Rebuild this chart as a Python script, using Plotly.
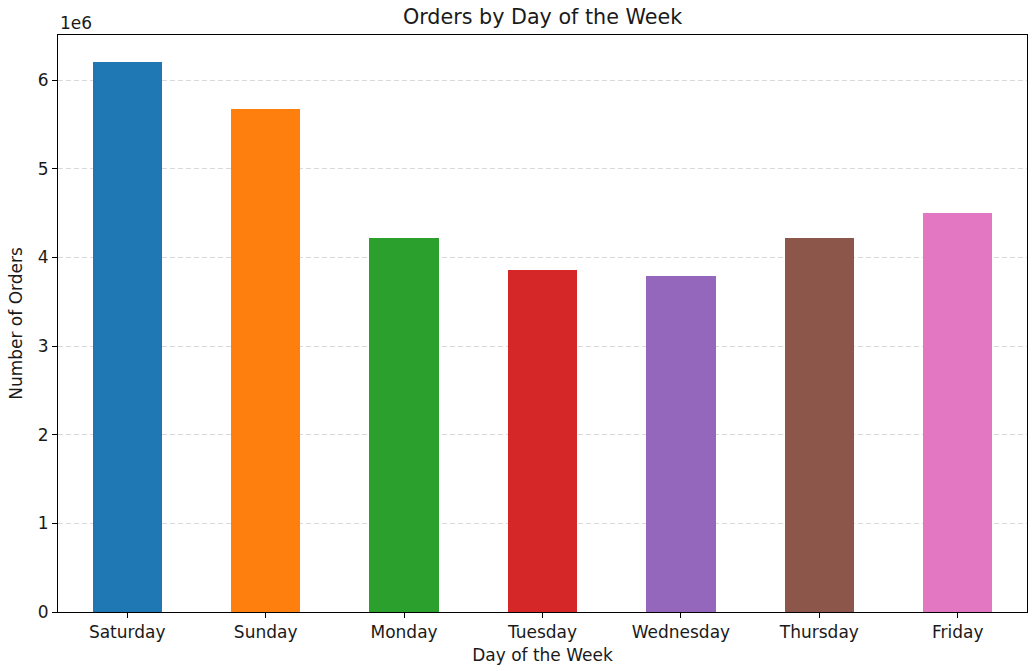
import plotly.graph_objects as go

days = ["Saturday", "Sunday", "Monday", "Tuesday", "Wednesday", "Thursday", "Friday"]
orders = [6200000, 5670000, 4215000, 3855000, 3795000, 4215000, 4500000]
colors = ["#1f77b4", "#ff7f0e", "#2ca02c", "#d62728", "#9467bd", "#8c564b", "#e377c2"]
ytick_vals = [0, 1000000, 2000000, 3000000, 4000000, 5000000, 6000000]
ytick_text = ["0", "1", "2", "3", "4", "5", "6"]

fig = go.Figure(go.Bar(x=days, y=orders, marker=dict(color=colors, line=dict(width=0)), width=0.5))

fig.update_layout(
    width=1033, height=671,
    margin=dict(l=58, r=6, t=35, b=59, autoexpand=False),
    plot_bgcolor="white", paper_bgcolor="white",
    font=dict(family="DejaVu Sans", size=17, color="#1a1a1a"),
    title=dict(text="Orders by Day of the Week", x=0.5, xref="paper", xanchor="center",
               y=1, yref="container", yanchor="top", pad=dict(t=10), font=dict(size=20.7)),
    showlegend=False,
    bargap=0,
)
fig.update_xaxes(
    range=[-0.5, 6.5], showline=True, linecolor="black", linewidth=1, mirror=True,
    ticks="outside", ticklen=5, tickcolor="black", showgrid=False, automargin=False,
    title=dict(text="Day of the Week", font=dict(size=17), standoff=7),
)
fig.update_yaxes(
    range=[0, 6510000], showline=True, linecolor="black", linewidth=1, mirror=True,
    ticks="outside", ticklen=5, tickcolor="black", automargin=False,
    tickvals=ytick_vals, ticktext=ytick_text,
    showgrid=True, gridcolor="rgba(160,160,160,0.4)", griddash="5px,3px", gridwidth=1,
    zeroline=False,
    title=dict(text="Number of Orders", font=dict(size=17), standoff=10),
)
fig.add_annotation(text="1e6", xref="paper", yref="paper", x=0, y=1, xanchor="left", yanchor="bottom",
                   showarrow=False, font=dict(size=17), yshift=0)
fig.write_html("out.html", config={"displayModeBar": False},
               post_script="document.body.style.margin='0px';document.body.style.padding='0px';")
